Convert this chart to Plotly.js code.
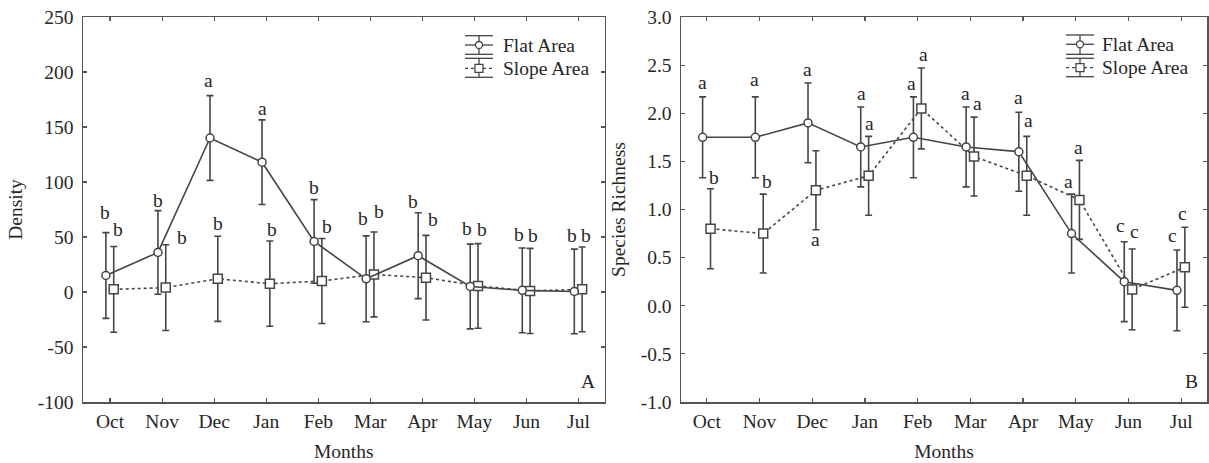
<!DOCTYPE html>
<html><head><meta charset="utf-8">
<script src="https://cdn.plot.ly/plotly-3.0.1.min.js"></script>
<style>html,body{margin:0;padding:0;background:#fff;} #chart{width:1209px;height:463px;}</style>
</head><body><div id="chart"></div>
<script>
// ---------- data ----------
const months = ['Oct','Nov','Dec','Jan','Feb','Mar','Apr','May','Jun','Jul'];

const densityFlat      = [15, 36, 140, 118, 46, 12, 33, 5, 1.5, 0.5];
const densityFlatErr   = [39, 38, 38.5, 38.5, 38, 39, 39, 38.5, 38.5, 38.5];
const densitySlope     = [2.4, 4, 12, 7.6, 10, 16, 13, 5.5, 1, 2.4];
const densitySlopeErr  = [39, 39, 38.7, 38.8, 38.7, 38.6, 38.5, 38.5, 38.7, 38.5];
const densityFlatLetters  = ['b','b','a','a','b','b','b','b','b','b'];
const densitySlopeLetters = ['b','b','b','b','b','b','b','b','b','b'];
const densityTicks      = [-100, -50, 0, 50, 100, 150, 200, 250];
const densityTickLabels = ['-100', '-50', '0', '50', '100', '150', '200', '250'];

const richFlat      = [1.75, 1.75, 1.9, 1.65, 1.75, 1.65, 1.6, 0.75, 0.25, 0.16];
const richFlatErr   = [0.42, 0.42, 0.415, 0.415, 0.42, 0.415, 0.41, 0.41, 0.415, 0.42];
const richSlope     = [0.8, 0.75, 1.2, 1.35, 2.05, 1.55, 1.35, 1.1, 0.17, 0.4];
const richSlopeErr  = [0.415, 0.41, 0.41, 0.41, 0.42, 0.41, 0.41, 0.41, 0.42, 0.415];
const richFlatLetters  = ['a','a','a','a','a','a','a','a','c','c'];
const richSlopeLetters = ['b','b','a','a','a','a','a','a','c','c'];
const richTicks      = [-1, -0.5, 0, 0.5, 1, 1.5, 2, 2.5, 3];
const richTickLabels = ['-1.0', '-0.5', '0.0', '0.5', '1.0', '1.5', '2.0', '2.5', '3.0'];

const seriesNames = ['Flat Area', 'Slope Area'];

// ---------- letter placement (pixel shifts from error-bar end) ----------
const dFlatDx  = [-0.5, 0.4, -1.4, 0, 0, -2.7, -4.8, -2.9, -3, -2.7];
const dFlatDy  = [19.7, 10.3, 12.7, 9.7, 12.3, 17.4, 11.3, 15.3, 13.3, 13.3];
const dSlopeDx = [4.5, 16, 0.6, 1.9, 4.8, 5.3, 7.2, 3.5, 3, 4.3];
const dSlopeDy = [16.7, 7.6, 13, 11.7, 12.3, 20, 15.7, 14.3, 13.3, 12];
const rFlatDx  = [0, -0.5, -1, 0.7, -2.1, -0.6, 0, -3.2, -4, -4.4];
const rFlatDy  = [12.3, 15, 11, 11.6, 11.6, 11.6, 12.3, 10.7, 14, 12.4];
const rSlopeDx = [3.8, 3.4, -0.1, 1.2, 2.4, 3.3, 2.1, -0.7, 2.2, -2.8];
const rSlopeDy = [11.7, 12.3, -12, 10.6, 12, 11.6, 14, 11, 15.7, 11.6];
const rSlopeBelow = [false,false,true,false,false,false,false,false,false,false];

// ---------- styling ----------
const FONT = 'Liberation Serif, Times New Roman, serif';
const TXT = '#262626';
const LINE = '#454545';
const AX = '#555555';
const FS = 19.5;
const flatOff = -0.08, slopeOff = 0.07;
const W = 1209, H = 463, ML = 83, MR = 2, MT = 17, MB = 61;
const PW = W - ML - MR, PH = H - MT - MB;
const px = v => (v - ML) / PW;
const py = v => (H - MB - v) / PH;

function errCfg(arr){ return {type:'data', array:arr, visible:true, color:LINE, thickness:1.6, width:3.5}; }
function flatTrace(vals, errs, xa, ya){
  return {x: vals.map((_, i) => i + flatOff), y: vals, xaxis: xa, yaxis: ya,
    type:'scatter', mode:'lines+markers', name: seriesNames[0], showlegend:false,
    line:{color:LINE, width:1.6},
    marker:{symbol:'circle', size:8, color:'#ffffff', line:{color:LINE, width:1.5}},
    error_y: errCfg(errs), cliponaxis:false};
}
function slopeTrace(vals, errs, xa, ya){
  return {x: vals.map((_, i) => i + slopeOff), y: vals, xaxis: xa, yaxis: ya,
    type:'scatter', mode:'lines+markers', name: seriesNames[1], showlegend:false,
    line:{color:LINE, width:1.6, dash:'3px,3px'},
    marker:{symbol:'square', size:9, color:'#ffffff', line:{color:LINE, width:1.5}},
    error_y: errCfg(errs), cliponaxis:false};
}

const data = [
  slopeTrace(densitySlope, densitySlopeErr, 'x', 'y'),
  flatTrace(densityFlat, densityFlatErr, 'x', 'y'),
  slopeTrace(richSlope, richSlopeErr, 'x2', 'y2'),
  flatTrace(richFlat, richFlatErr, 'x2', 'y2')
];

const annotations = [];
function addLetters(letters, vals, errs, off, dx, dy, xr, yr, below){
  letters.forEach((t, i) => {
    const b = below && below[i];
    annotations.push({text: t, x: i + off, y: b ? vals[i] - errs[i] : vals[i] + errs[i],
      xref: xr, yref: yr, showarrow:false, xanchor:'center', yanchor:'middle',
      xshift: dx[i], yshift: dy[i] + (t === 'b' ? 0 : 2),
      font:{family:FONT, size:FS, color:TXT}});
  });
}
addLetters(densityFlatLetters, densityFlat, densityFlatErr, flatOff, dFlatDx, dFlatDy, 'x', 'y');
addLetters(densitySlopeLetters, densitySlope, densitySlopeErr, slopeOff, dSlopeDx, dSlopeDy, 'x', 'y');
addLetters(richFlatLetters, richFlat, richFlatErr, flatOff, rFlatDx, rFlatDy, 'x2', 'y2');
addLetters(richSlopeLetters, richSlope, richSlopeErr, slopeOff, rSlopeDx, rSlopeDy, 'x2', 'y2', rSlopeBelow);

annotations.push({text:'A', xref:'x domain', yref:'y domain', x:1, y:0, xanchor:'right', yanchor:'bottom',
  xshift:-8, yshift:8, showarrow:false, font:{family:FONT, size:FS, color:TXT}});
annotations.push({text:'B', xref:'x2 domain', yref:'y2 domain', x:1, y:0, xanchor:'right', yanchor:'bottom',
  xshift:-7, yshift:8, showarrow:false, font:{family:FONT, size:FS, color:TXT}});

// ---------- custom legends (error-bar glyphs) ----------
const shapes = [];
function legendBlock(x0, x1, rows, textX){
  const xc = (x0 + x1) / 2;
  rows.forEach((r, k) => {
    const L = {color: LINE, width: 1.3};
    shapes.push({type:'line', xref:'paper', yref:'paper', x0:px(x0), x1:px(x1), y0:py(r.top), y1:py(r.top), line:L});
    shapes.push({type:'line', xref:'paper', yref:'paper', x0:px(x0), x1:px(x1), y0:py(r.bot), y1:py(r.bot), line:L});
    shapes.push({type:'line', xref:'paper', yref:'paper', x0:px(xc), x1:px(xc), y0:py(r.top), y1:py(r.bot), line:L});
    shapes.push({type:'line', xref:'paper', yref:'paper', x0:px(x0), x1:px(x1), y0:py(r.mid), y1:py(r.mid),
      line:{color:LINE, width:1.3, dash: k === 0 ? 'solid' : '3px,3px'}});
    shapes.push({type: k === 0 ? 'circle' : 'rect', xref:'paper', yref:'paper',
      xsizemode:'pixel', ysizemode:'pixel', xanchor:px(xc), yanchor:py(r.mid),
      x0: k === 0 ? -3.5 : -4, x1: k === 0 ? 3.5 : 4, y0: k === 0 ? -3.5 : -4, y1: k === 0 ? 3.5 : 4,
      fillcolor:'#ffffff', line:{color:LINE, width:1.3}});
    annotations.push({text: seriesNames[k], xref:'paper', yref:'paper', x:px(textX), y:py(r.mid),
      xanchor:'left', yanchor:'middle', showarrow:false, font:{family:FONT, size:FS, color:TXT}});
  });
}
legendBlock(465, 493, [{top:35.7, mid:45, bot:54.3}, {top:58.3, mid:68.3, bot:77.3}], 501);
legendBlock(1066, 1094, [{top:35, mid:44.3, bot:54.3}, {top:58.3, mid:67.7, bot:76.7}], 1100);

// ---------- axes ----------
const axBase = {showline:true, linecolor:AX, linewidth:1.5, mirror:'ticks', ticks:'inside', ticklen:4,
  tickwidth:1.2, tickcolor:AX, showgrid:false, zeroline:false,
  tickfont:{family:FONT, size:FS, color:TXT}};
const xBase = Object.assign({}, axBase, {tickmode:'array', tickvals: months.map((_, i) => i), ticktext: months,
  ticklabelstandoff: 1, title:{text:'Months', font:{family:FONT, size:FS, color:TXT}, standoff: 13}});

const layout = {
  width: W, height: H, margin:{l:ML, r:MR, t:MT, b:MB}, paper_bgcolor:'#ffffff', plot_bgcolor:'#ffffff',
  showlegend:false,
  xaxis: Object.assign({}, xBase, {domain:[0, px(604.5)], range:[-0.52, 9.5], anchor:'y'}),
  yaxis: Object.assign({}, axBase, {range:[-100, 250], tickmode:'array', tickvals: densityTicks, ticktext: densityTickLabels,
    ticklabelstandoff: 4, anchor:'x', title:{text:'Density', font:{family:FONT, size:FS, color:TXT}, standoff: 10}}),
  xaxis2: Object.assign({}, xBase, {domain:[px(681), 1], range:[-0.49, 9.49], anchor:'y2'}),
  yaxis2: Object.assign({}, axBase, {range:[-1, 3], tickmode:'array', tickvals: richTicks, ticktext: richTickLabels,
    ticklabelstandoff: 4, anchor:'x2', title:{text:'Species Richness', font:{family:FONT, size:FS, color:TXT}, standoff: 10}}),
  annotations: annotations,
  shapes: shapes
};

Plotly.newPlot('chart', data, layout, {staticPlot:true, displayModeBar:false});
</script>
</body></html>
